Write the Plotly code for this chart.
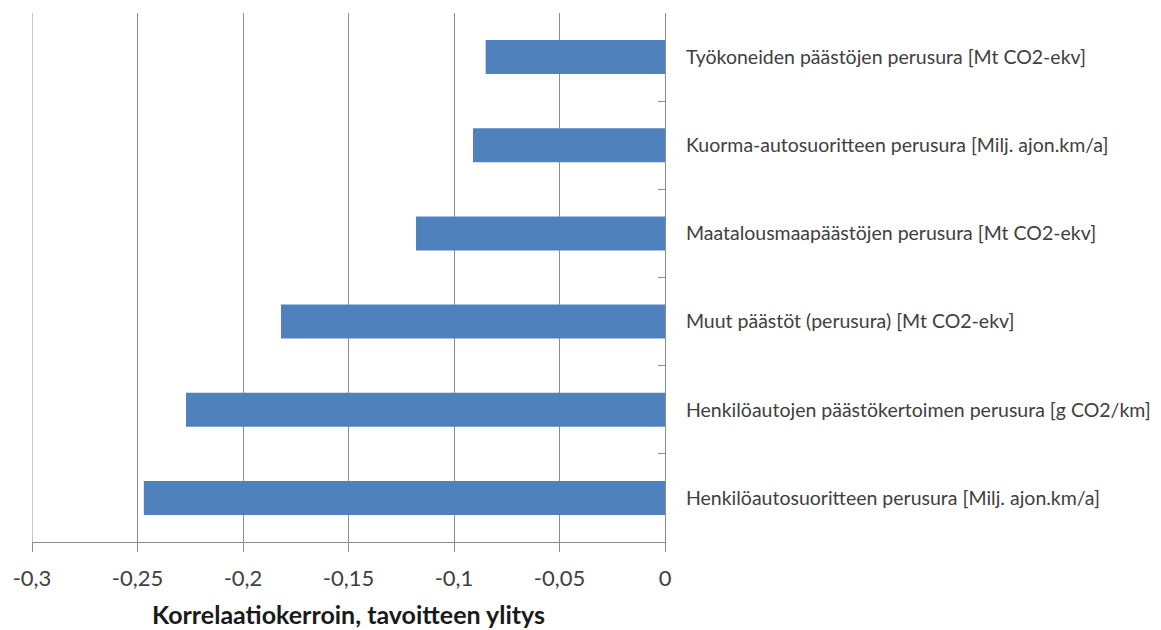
import plotly.graph_objects as go

# Categories listed from top to bottom as they appear on the chart
categories = [
    "Työkoneiden päästöjen perusura [Mt CO2-ekv]",
    "Kuorma-autosuoritteen perusura [Milj. ajon.km/a]",
    "Maatalousmaapäästöjen perusura [Mt CO2-ekv]",
    "Muut päästöt (perusura) [Mt CO2-ekv]",
    "Henkilöautojen päästökertoimen perusura [g CO2/km]",
    "Henkilöautosuoritteen perusura [Milj. ajon.km/a]",
]
correlations = [-0.085, -0.091, -0.118, -0.182, -0.227, -0.247]

x_ticks = [-0.3, -0.25, -0.2, -0.15, -0.1, -0.05, 0]
x_tick_labels = ["-0,3", "-0,25", "-0,2", "-0,15", "-0,1", "-0,05", "0"]

axis_grey = "#8c8c8c"
text_grey = "#404040"
bar_blue = "#4f81bd"

fig = go.Figure(
    go.Bar(
        x=correlations,
        y=categories,
        orientation="h",
        marker=dict(color=bar_blue, line=dict(width=0)),
        width=0.385,
    )
)

# gridline at the left edge of the value axis (plotly drops edge gridlines)
fig.add_vline(x=x_ticks[0], line=dict(color=axis_grey, width=1), layer="below")

fig.update_layout(
    width=1161,
    height=630,
    margin=dict(l=31.5, r=495.5, t=13, b=87.5),
    paper_bgcolor="white",
    plot_bgcolor="white",
    showlegend=False,
    font=dict(family="Lato", color=text_grey),
)

fig.update_xaxes(
    range=[-0.3, 0],
    tickvals=x_ticks,
    ticktext=x_tick_labels,
    automargin=False,
    showgrid=True,
    gridcolor=axis_grey,
    gridwidth=1,
    zeroline=False,
    showline=True,
    linecolor=axis_grey,
    linewidth=1,
    ticks="outside",
    ticklen=9,
    tickcolor=axis_grey,
    ticklabelstandoff=8,
    tickfont=dict(size=22, color=text_grey),
    title=dict(
        text="<b>Korrelaatiokerroin, tavoitteen ylitys</b>",
        font=dict(size=25, color="#1a1a1a"),
        standoff=16,
    ),
)

fig.update_yaxes(
    categoryorder="array",
    categoryarray=categories,
    autorange=False,
    range=[5.5, -0.5],
    automargin=False,
    side="right",
    showgrid=False,
    zeroline=False,
    showline=True,
    linecolor=axis_grey,
    linewidth=1,
    ticks="inside",
    ticklen=7,
    tickcolor=axis_grey,
    tickson="boundaries",
    ticklabelstandoff=16,
    tickfont=dict(size=19.5, color=text_grey),
)

fig.write_html("out.html")
